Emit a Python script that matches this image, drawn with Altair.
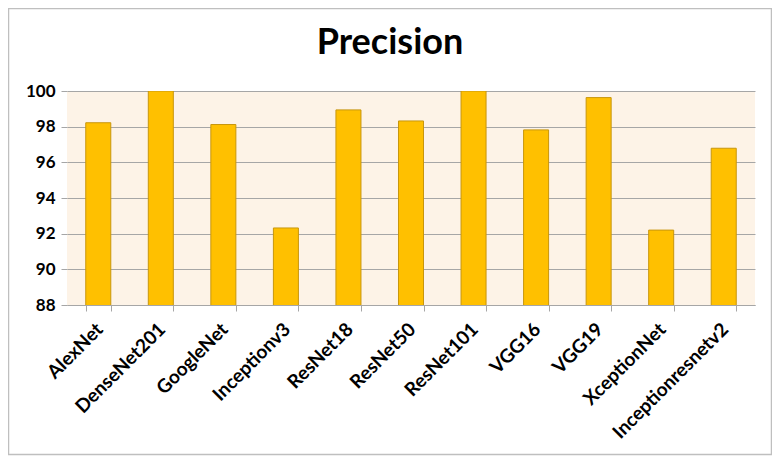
import altair as alt
import pandas as pd

models = ["AlexNet", "DenseNet201", "GoogleNet", "Inceptionv3", "ResNet18", "ResNet50",
          "ResNet101", "VGG16", "VGG19", "XceptionNet", "Inceptionresnetv2"]
precision = [98.22, 100.0, 98.12, 92.32, 98.94, 98.32, 100.0, 97.82, 99.63, 92.2, 96.79]
y_ticks = [88, 90, 92, 94, 96, 98, 100]
title_text = ["Precision"]

df = pd.DataFrame({"model": models, "precision": precision})

FONT = "Lato"

bars = alt.Chart(df).mark_bar(
    color="#FFC000", stroke="#C8960C", strokeWidth=1, clip=True
).encode(
    x=alt.X("model:N", sort=models, title=None,
            scale=alt.Scale(paddingInner=0.6, paddingOuter=0.3),
            axis=alt.Axis(labelAngle=-45, labelAlign="right", labelBaseline="middle",
                          labelFont=FONT, labelFontSize=19, labelFontWeight="bold",
                          labelColor="black", labelPadding=15, labelOffset=1,
                          tickBand="extent",
                          tickColor="#A6A6A6", tickSize=6, domainColor="#A6A6A6",
                          grid=False)),
    y=alt.Y("precision:Q", title=None,
            scale=alt.Scale(domain=[88, 100], nice=False, zero=False),
            axis=alt.Axis(values=y_ticks, labelFont=FONT, labelFontSize=17,
                          labelFontWeight="bold", labelColor="black", labelPadding=6,
                          tickColor="#A6A6A6", tickSize=6, domain=False,
                          grid=True, gridColor="#A6A6A6", gridWidth=1)),
)

title = alt.Chart(pd.DataFrame({"t": title_text})).mark_text(
    font=FONT, fontSize=36, fontWeight="bold", color="black",
    align="center", baseline="alphabetic"
).encode(text="t:N", x=alt.value(323), y=alt.value(-37))

border = alt.Chart(alt.Data(values=[{"a": 1}])).mark_rect(
    fill="transparent", stroke="#BFBFBF", strokeWidth=1.5
).encode(
    x=alt.value(-58.5), x2=alt.value(704.5),
    y=alt.value(-82.5), y2=alt.value(363.5),
)

chart = alt.layer(bars, title, border).properties(
    width=688, height=214,
    padding={"left": 59, "top": 83, "right": 17, "bottom": 151},
    autosize=alt.AutoSizeParams(type="none"),
    background="white",
).configure_view(
    fill="#FDF3E7", stroke=None
)

chart.save("out.html", embed_options={"renderer": "svg", "actions": False})
